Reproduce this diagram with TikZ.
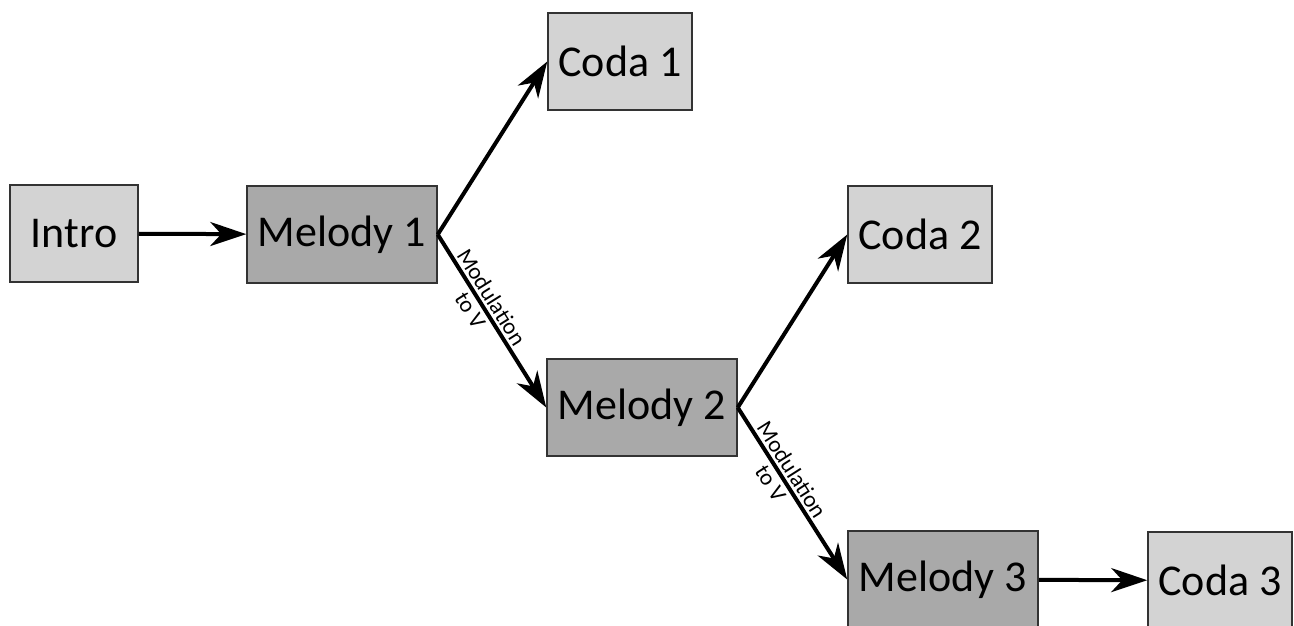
\documentclass[tikz,border=0pt]{standalone}
\usepackage{fontspec}
\setmainfont{Carlito}
\usetikzlibrary{arrows.meta}
\definecolor{codafill}{RGB}{211,211,211}
\definecolor{melodyfill}{RGB}{169,169,169}
\begin{document}
\begin{tikzpicture}[x=1pt,y=-1pt,
  box/.style={draw=black!80, line width=1.5pt, inner sep=0pt,
    minimum height=97pt, font=\fontsize{44}{48}\selectfont},
  coda/.style={box, fill=codafill, minimum width=144pt},
  melody/.style={box, fill=melodyfill, minimum width=190pt},
  link/.style={line width=4pt, -{Stealth[length=36pt,width=24pt,inset=11pt]}},
  note/.style={sloped, pos=0.4, inner sep=0pt, align=center,
    font=\fontsize{23}{25}\selectfont}]

\useasboundingbox (0,0) rectangle (1294,625);

% sections
\node[coda, minimum width=128pt] (intro) at (74,233.5) {Intro};
\node[melody] (m1) at (342,234.5) {Melody 1};
\node[coda] (c1) at (620,61.5) {Coda 1};
\node[coda] (c2) at (920,234.5) {Coda 2};
\node[melody] (m2) at (642,407.5) {Melody 2};
\node[coda] (c3) at (1220,580.5) {Coda 3};
\node[melody] (m3) at (943,579.5) {Melody 3};

% transitions
\draw[link] (intro) -- (m1);
\draw[link] (m1.east) -- (c1.west);
\draw[link] (m1.east) -- node[note] {Modulation\\to V} (m2.west);
\draw[link] (m2.east) -- (c2.west);
\draw[link] (m2.east) -- node[note] {Modulation\\to V} (m3.west);
\draw[link] (m3) -- (c3);
\end{tikzpicture}
\end{document}
